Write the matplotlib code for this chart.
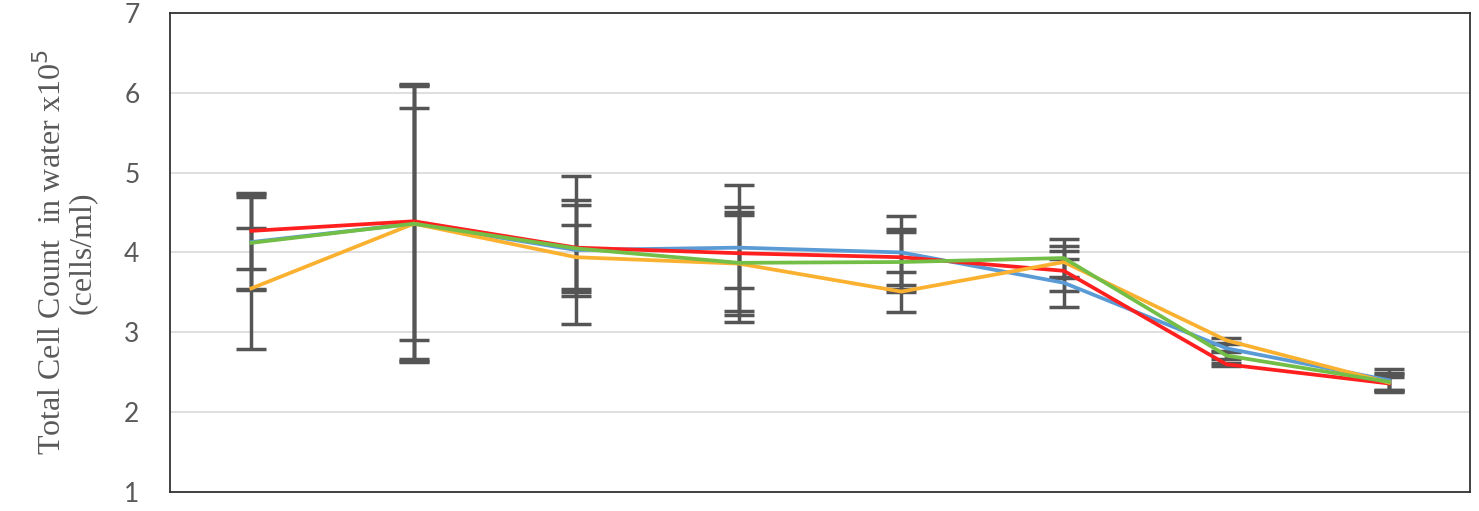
import matplotlib.pyplot as plt

# data (x10^5 cells/ml)
blue = [4.13, 4.36, 4.03, 4.06, 4.00, 3.62, 2.80, 2.40]
orange = [3.55, 4.36, 3.94, 3.86, 3.51, 3.88, 2.90, 2.37]
red = [4.27, 4.39, 4.06, 3.99, 3.94, 3.77, 2.60, 2.36]
green = [4.12, 4.36, 4.05, 3.87, 3.88, 3.93, 2.71, 2.38]

blue_err = [0.60, 1.72, 0.93, 0.51, 0.46, 0.30, 0.05, 0.14]
orange_err = [0.76, 1.73, 0.40, 0.64, 0.25, 0.20, 0.03, 0.12]
red_err = [0.48, 1.72, 0.60, 0.86, 0.35, 0.25, 0.02, 0.08]
green_err = [0.58, 1.45, 0.55, 0.60, 0.38, 0.24, 0.05, 0.10]

x = list(range(len(blue)))

fig = plt.figure(figsize=(14.79, 5.11), dpi=100)
ax = fig.add_axes([0.115, 0.037, 0.879, 0.938])

series = [(blue, blue_err, "#5B9BD5"),
          (red, red_err, "#FF1F1F"),
          (orange, orange_err, "#FBB130"),
          (green, green_err, "#72BE46")]

# error bars first, lines on top
for vals, err, c in series:
    ax.errorbar(x, vals, yerr=err, fmt="none", ecolor="#555555",
                elinewidth=2.5, capsize=11, capthick=2.5, zorder=2)
for vals, err, c in series:
    ax.plot(x, vals, color=c, linewidth=2.7, zorder=3)

ax.set_xlim(-0.5, 7.5)
ax.set_ylim(1, 7)
ax.set_yticks([1, 2, 3, 4, 5, 6, 7])
ax.set_xticks([])
ax.yaxis.grid(True, color="#D9D9D9", linewidth=1.2)
ax.set_axisbelow(True)
for s in ax.spines.values():
    s.set_color("#333333")
    s.set_linewidth(1.3)
ax.tick_params(axis="y", length=0, pad=22, labelsize=19, labelcolor="#595959")
for lab in ax.get_yticklabels():
    lab.set_family("Lato")

ax.set_ylabel("Total Cell Count  in water x10$^5$\n(cells/ml)",
              family="Liberation Serif", fontsize=23, color="#595959",
              linespacing=0.95, labelpad=20)

plt.savefig("out.png")
